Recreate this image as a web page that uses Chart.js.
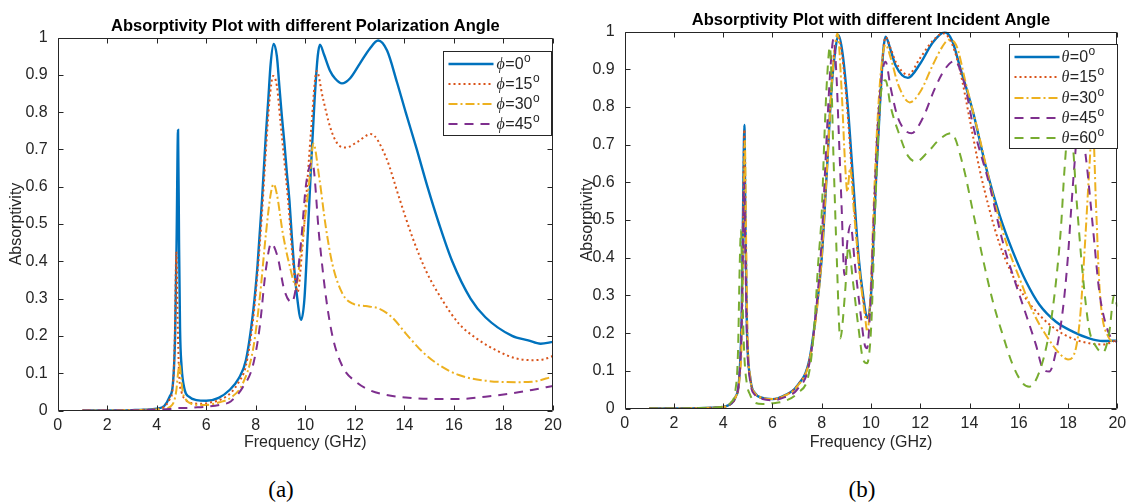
<!DOCTYPE html>
<html><head><meta charset="utf-8">
<script src="https://cdn.jsdelivr.net/npm/chart.js@4.4.1/dist/chart.umd.min.js"></script>
<style>
html,body{margin:0;padding:0;background:#fff;}
body{width:1129px;height:504px;position:relative;overflow:hidden;}
canvas{position:absolute;top:0;}
#ca{left:0;}
#cb{left:565px;}
.cap{position:absolute;top:476px;width:100px;text-align:center;font:23px "Liberation Serif","Times New Roman",serif;line-height:28px;color:#000;}
</style></head><body>
<canvas id="ca" width="565" height="460"></canvas>
<canvas id="cb" width="564" height="460"></canvas>
<div class="cap" style="left:231px">(a)</div>
<div class="cap" style="left:812px">(b)</div>
<script>
// ---------- data ----------
const xTicks = [0, 2, 4, 6, 8, 10, 12, 14, 16, 18, 20];
const yTicks = [0, 0.1, 0.2, 0.3, 0.4, 0.5, 0.6, 0.7, 0.8, 0.9, 1];
const titleA = 'Absorptivity Plot with different Polarization Angle';
const titleB = 'Absorptivity Plot with different Incident Angle';
const xLabel = 'Frequency (GHz)';
const yLabel = 'Absorptivity';
const phiAngles = [0, 15, 30, 45];
const thetaAngles = [0, 15, 30, 45, 60];

// (a) polarization angle phi
const freqA0 = [1,2,3,3.5,4,4.3,4.52,4.65,4.74,4.8,4.86,4.9,4.94,5.0,5.13,5.3,5.6,6.0,6.5,6.94,7.3,7.6,7.9,8.07,8.25,8.41,8.5,8.6,8.72,8.85,8.95,9.05,9.15,9.25,9.36,9.45,9.54,9.68,9.83,9.96,10.1,10.23,10.37,10.5,10.59,10.75,11.0,11.2,11.48,11.8,12.2,12.6,12.94,13.3,13.7,14.05,14.5,14.93,15.4,15.93,16.67,17.27,18.35,19.0,19.5,20];
const absA0  = [0,0,0.001,0.002,0.005,0.012,0.037,0.07,0.2,0.45,0.752,0.45,0.22,0.12,0.055,0.037,0.028,0.026,0.034,0.055,0.085,0.135,0.27,0.39,0.565,0.744,0.83,0.93,0.983,0.95,0.87,0.79,0.72,0.64,0.56,0.47,0.39,0.297,0.243,0.297,0.476,0.655,0.83,0.95,0.981,0.955,0.91,0.89,0.877,0.89,0.93,0.97,0.992,0.965,0.88,0.8,0.7,0.6,0.5,0.4,0.3,0.25,0.2,0.188,0.179,0.184];
const freqA15 = [1,2,3,3.5,4,4.3,4.52,4.65,4.73,4.79,4.84,4.9,5.0,5.15,5.4,5.8,6.2,6.6,7.0,7.3,7.6,7.9,8.07,8.25,8.41,8.55,8.7,8.85,9.0,9.15,9.3,9.5,9.69,9.87,10.03,10.23,10.46,10.7,11.0,11.3,11.64,12.1,12.64,13.25,13.79,14.32,14.86,15.53,16.2,17.0,17.81,18.48,19.15,19.6,20];
const absA15  = [0,0,0.001,0.002,0.004,0.01,0.03,0.065,0.2,0.426,0.25,0.1,0.05,0.03,0.02,0.018,0.022,0.03,0.048,0.075,0.12,0.25,0.37,0.53,0.7,0.83,0.897,0.87,0.77,0.67,0.565,0.4,0.318,0.43,0.565,0.75,0.91,0.84,0.76,0.715,0.705,0.72,0.741,0.68,0.57,0.465,0.376,0.296,0.233,0.189,0.158,0.14,0.135,0.137,0.146];
const freqA30 = [1,2,3,4,4.3,4.52,4.7,4.79,4.86,4.92,4.98,5.05,5.19,5.4,5.73,6.0,6.53,7.0,7.47,7.88,8.15,8.41,8.6,8.72,8.85,9.09,9.36,9.62,9.83,10.03,10.2,10.32,10.56,10.83,11.1,11.5,11.9,12.44,12.98,13.5,14.05,14.72,15.4,16.2,17.27,18.48,19.15,20];
const absA30  = [0,0,0.001,0.003,0.005,0.009,0.025,0.054,0.1,0.127,0.09,0.05,0.028,0.018,0.015,0.015,0.022,0.035,0.072,0.161,0.296,0.475,0.58,0.607,0.58,0.475,0.39,0.335,0.43,0.54,0.64,0.716,0.625,0.49,0.39,0.313,0.287,0.28,0.273,0.25,0.207,0.158,0.122,0.095,0.08,0.076,0.077,0.091];
const freqA45 = [1,2,3,4,4.5,4.85,5.2,5.5,6.0,6.53,7.0,7.47,7.88,8.15,8.41,8.62,8.88,9.15,9.45,9.62,9.83,10.03,10.28,10.56,10.83,11.1,11.5,12.04,12.58,13.25,14.05,15.13,16.2,17.27,18.35,19.15,20];
const absA45  = [0,0,0.0005,0.002,0.004,0.007,0.007,0.008,0.01,0.015,0.025,0.062,0.12,0.22,0.38,0.448,0.412,0.323,0.29,0.33,0.455,0.607,0.665,0.465,0.305,0.198,0.118,0.077,0.055,0.042,0.035,0.031,0.031,0.037,0.046,0.055,0.066];

// (b) incident angle theta
const freqB0 = [1,2,3,3.5,4,4.3,4.5,4.65,4.75,4.81,4.86,4.9,4.96,5.1,5.3,5.6,6.0,6.5,7.0,7.5,7.8,8.0,8.2,8.4,8.55,8.68,8.85,9.06,9.28,9.5,9.68,9.86,10.0,10.1,10.2,10.36,10.5,10.59,10.8,11.0,11.5,12.0,12.5,12.99,13.3,13.59,14.14,14.68,15.22,15.76,16.3,16.84,17.51,18.19,18.86,19.41,20];
const absB0  = [0,0,0.001,0.002,0.004,0.012,0.03,0.08,0.25,0.55,0.752,0.5,0.22,0.08,0.04,0.028,0.025,0.035,0.06,0.13,0.27,0.4,0.62,0.85,0.95,0.99,0.94,0.8,0.6,0.4,0.3,0.24,0.3,0.45,0.6,0.8,0.95,0.986,0.95,0.91,0.877,0.915,0.97,0.998,0.975,0.911,0.787,0.637,0.513,0.416,0.336,0.275,0.23,0.204,0.186,0.179,0.18];
const freqB15 = [1,2,3,3.5,4,4.3,4.5,4.65,4.75,4.81,4.86,4.9,4.96,5.1,5.3,5.6,6.0,6.5,7.0,7.5,7.8,8.0,8.2,8.4,8.52,8.65,8.82,9.03,9.25,9.48,9.66,9.84,10.0,10.1,10.2,10.36,10.5,10.59,10.8,11.0,11.5,12.0,12.5,12.95,13.3,13.6,14.0,14.4,14.8,15.2,15.7,16.2,16.84,17.5,18.2,18.86,19.41,20];
const absB15  = [0,0,0.001,0.002,0.004,0.012,0.03,0.08,0.25,0.55,0.74,0.5,0.22,0.08,0.04,0.028,0.025,0.035,0.06,0.13,0.27,0.41,0.63,0.86,0.95,0.99,0.94,0.8,0.6,0.4,0.3,0.24,0.3,0.45,0.6,0.8,0.95,0.985,0.955,0.92,0.885,0.93,0.975,0.995,0.965,0.9,0.77,0.637,0.53,0.44,0.36,0.3,0.248,0.21,0.185,0.173,0.17,0.182];
const freqB30 = [1,2,3,3.5,4,4.3,4.5,4.65,4.76,4.83,4.88,4.92,4.98,5.1,5.3,5.6,6.0,6.5,7.0,7.5,7.8,8.0,8.2,8.4,8.52,8.64,8.81,8.95,9.04,9.15,9.31,9.55,9.75,9.85,9.97,10.1,10.24,10.41,10.59,10.8,11.1,11.57,12.0,12.5,12.9,13.15,13.45,13.86,14.4,14.95,15.49,16.03,16.57,17.1,17.65,18.0,18.32,18.5,18.7,18.85,19.0,19.13,19.27,19.4,19.6,19.8,20];
const absB30  = [0,0,0.001,0.002,0.004,0.012,0.03,0.07,0.2,0.5,0.71,0.5,0.22,0.08,0.04,0.028,0.025,0.034,0.058,0.125,0.26,0.4,0.62,0.85,0.95,0.995,0.84,0.646,0.575,0.637,0.52,0.354,0.248,0.204,0.29,0.52,0.734,0.9,0.965,0.93,0.86,0.812,0.84,0.91,0.96,0.978,0.965,0.86,0.72,0.565,0.44,0.345,0.257,0.195,0.146,0.13,0.16,0.25,0.45,0.62,0.76,0.55,0.33,0.24,0.195,0.178,0.18];
const freqB45 = [1,2,3,3.5,4,4.3,4.5,4.65,4.75,4.8,4.85,4.9,4.97,5.1,5.3,5.6,6.0,6.5,7.0,7.5,7.8,8.0,8.2,8.35,8.48,8.6,8.68,8.81,8.92,9.05,9.17,9.35,9.55,9.75,9.84,9.97,10.1,10.24,10.41,10.59,10.8,11.1,11.64,12.1,12.6,13.0,13.39,13.8,14.14,14.81,15.35,15.89,16.3,16.7,16.97,17.24,17.51,17.78,17.99,18.12,18.26,18.45,18.73,19.0,19.27,19.54,19.81,20];
const absB45  = [0,0,0.001,0.002,0.004,0.012,0.03,0.08,0.22,0.42,0.6,0.4,0.18,0.07,0.035,0.025,0.022,0.03,0.05,0.12,0.28,0.45,0.72,0.9,0.98,0.88,0.75,0.53,0.354,0.45,0.487,0.38,0.266,0.168,0.16,0.266,0.487,0.71,0.867,0.92,0.85,0.77,0.73,0.77,0.85,0.9,0.922,0.86,0.752,0.593,0.442,0.328,0.248,0.168,0.107,0.098,0.151,0.257,0.398,0.522,0.646,0.78,0.663,0.487,0.31,0.222,0.182,0.177];
const freqB60 = [1,2,3,3.5,4,4.3,4.5,4.6,4.67,4.72,4.78,4.85,4.95,5.1,5.3,5.6,6.0,6.5,7.0,7.5,7.7,7.85,8.0,8.12,8.22,8.33,8.48,8.61,8.75,8.95,9.08,9.28,9.48,9.68,9.84,10.01,10.15,10.28,10.41,10.59,10.8,11.16,11.5,11.84,12.3,12.8,13.26,13.73,14.14,14.54,14.95,15.35,15.76,16.16,16.43,16.84,17.24,17.51,17.72,17.85,18.0,18.15,18.35,18.59,18.86,19.13,19.41,19.67,19.87,20];
const absB60  = [0,0,0.001,0.002,0.005,0.015,0.05,0.15,0.38,0.473,0.3,0.15,0.07,0.035,0.015,0.012,0.014,0.02,0.04,0.1,0.22,0.38,0.52,0.74,0.88,0.96,0.66,0.4,0.186,0.31,0.43,0.33,0.22,0.13,0.12,0.22,0.487,0.71,0.84,0.871,0.8,0.725,0.67,0.655,0.68,0.715,0.73,0.646,0.522,0.398,0.283,0.195,0.115,0.067,0.058,0.098,0.204,0.336,0.487,0.628,0.73,0.72,0.55,0.36,0.21,0.165,0.148,0.2,0.3,0.27];

// ---------- styles ----------
const seriesColors = ['#0072BD', '#D95319', '#EDB120', '#7E2F8E', '#77AC30'];
const seriesDash = [[], [2, 3], [9, 3, 2, 3], [9, 7], [9, 7]];
const seriesWidth = [2.4, 2, 2, 2, 2];
const AXIS = '#262626';
Chart.defaults.font.family = '"Liberation Sans", Arial, Helvetica, sans-serif';
Chart.defaults.color = AXIS;

function pts(xs, ys) { return xs.map((x, i) => ({ x: x, y: ys[i] })); }

function makeSets(freqs, abss, angles, sym) {
  const n = freqs.length;
  return freqs.map((f, i) => ({
    label: sym + '=' + angles[i] + '°',
    sym: sym, val: String(angles[i]),
    data: pts(f, abss[i]),
    borderColor: seriesColors[i],
    backgroundColor: seriesColors[i],
    borderWidth: seriesWidth[i],
    borderDash: seriesDash[i],
    pointRadius: 0,
    fill: false,
    cubicInterpolationMode: 'monotone',
    order: n - i
  }));
}

const framePlugin = {
  id: 'frame',
  afterDatasetsDraw(chart) {
    const { ctx, chartArea: a, scales } = chart;
    const x = scales.x, y = scales.y;
    const L = 5;
    ctx.save();
    ctx.strokeStyle = AXIS; ctx.lineWidth = 1; ctx.setLineDash([]);
    ctx.beginPath();
    const l = Math.round(a.left) + 0.5, r = Math.round(a.right) - 0.5;
    const t = Math.round(a.top) + 0.5, b = Math.round(a.bottom) - 0.5;
    ctx.rect(l, t, r - l, b - t);
    xTicks.forEach(v => {
      const p = Math.round(x.getPixelForValue(v)) + 0.5;
      ctx.moveTo(p, b); ctx.lineTo(p, b - L);
      ctx.moveTo(p, t); ctx.lineTo(p, t + L);
    });
    yTicks.forEach(v => {
      const p = Math.round(y.getPixelForValue(v)) + 0.5;
      ctx.moveTo(l, p); ctx.lineTo(l + L, p);
      ctx.moveTo(r, p); ctx.lineTo(r - L, p);
    });
    ctx.stroke();
    ctx.restore();
  }
};

const axTitlePlugin = {
  id: 'axTitle',
  afterDraw(chart, args, o) {
    const { ctx, chartArea: a } = chart;
    ctx.save();
    ctx.fillStyle = '#000';
    ctx.font = 'bold 16.5px "Liberation Sans", Arial, sans-serif';
    ctx.textAlign = 'center'; ctx.textBaseline = 'alphabetic';
    ctx.fillText(o.text, (a.left + a.right) / 2, a.top - o.gap);
    ctx.restore();
  }
};

const legendPlugin = {
  id: 'inLegend',
  afterDraw(chart, args, o) {
    const { ctx, chartArea: a } = chart;
    const sets = chart.data.datasets;
    const x0 = Math.round(a.right - o.right - o.width) + 0.5;
    const y0 = Math.round(a.top + o.top) + 0.5;
    ctx.save();
    ctx.fillStyle = '#fff';
    ctx.fillRect(x0, y0, o.width, o.height);
    ctx.strokeStyle = AXIS; ctx.lineWidth = 1;
    ctx.strokeRect(x0, y0, o.width, o.height);
    sets.forEach((ds, i) => {
      const yy = Math.round(y0 + o.first + i * o.step);
      ctx.beginPath();
      ctx.setLineDash(ds.borderDash);
      ctx.strokeStyle = ds.borderColor; ctx.lineWidth = ds.borderWidth;
      ctx.moveTo(x0 + o.lineStart, yy); ctx.lineTo(x0 + o.lineEnd, yy);
      ctx.stroke();
      ctx.setLineDash([]);
      let tx = x0 + o.textStart;
      ctx.fillStyle = AXIS; ctx.textBaseline = 'middle'; ctx.textAlign = 'left';
      ctx.font = 'italic 16px "Liberation Serif", serif';
      ctx.fillText(ds.sym, tx, yy + 1);
      tx += ctx.measureText(ds.sym).width + 0.5;
      ctx.font = '16px "Liberation Sans", Arial, sans-serif';
      const s = '=' + ds.val;
      ctx.fillText(s, tx, yy + 1);
      tx += ctx.measureText(s).width + 0.5;
      ctx.font = '12px "Liberation Sans", Arial, sans-serif';
      ctx.fillText('o', tx, yy - 5);
    });
    ctx.restore();
  }
};

function fmtTick(v) { return String(Math.round(v * 10) / 10); }

function makeOptions(p) {
  return {
    responsive: false,
    animation: false,
    events: [],
    layout: { padding: { left: 0, right: p.padRight, top: p.padTop, bottom: 0 } },
    plugins: {
      legend: { display: false },
      tooltip: { enabled: false },
      title: { display: false },
      axTitle: { text: p.title, gap: p.titleGap },
      inLegend: p.legend
    },
    scales: {
      x: {
        type: 'linear', min: 0, max: 20,
        grid: { display: false, drawTicks: false },
        border: { display: false },
        ticks: { padding: 5, font: { size: 16 }, color: AXIS, maxRotation: 0, callback: fmtTick },
        afterBuildTicks: s => { s.ticks = xTicks.map(v => ({ value: v })); },
        afterFit: s => { s.height = p.xHeight; s.paddingLeft = 0; s.paddingRight = 0; },
        title: { display: true, text: xLabel, color: AXIS, font: { size: 16 }, padding: { top: 0, bottom: p.xTitleBottom } }
      },
      y: {
        type: 'linear', min: 0, max: 1,
        grid: { display: false, drawTicks: false },
        border: { display: false },
        ticks: { padding: p.yTickPad, font: { size: 16 }, color: AXIS, callback: fmtTick },
        afterBuildTicks: s => { s.ticks = yTicks.map(v => ({ value: v })); },
        afterFit: s => { s.width = p.yWidth; s.paddingTop = 0; s.paddingBottom = 0; },
        title: { display: true, text: yLabel, color: AXIS, font: { size: 16 }, padding: { top: p.yTitleTop, bottom: 0 } }
      }
    }
  };
}

new Chart(document.getElementById('ca'), {
  type: 'line',
  data: { datasets: makeSets([freqA0, freqA15, freqA30, freqA45], [absA0, absA15, absA30, absA45], phiAngles, 'ϕ') },
  options: makeOptions({
    title: titleA, titleGap: 7, padRight: 12, padTop: 37.5,
    xHeight: 49.5, xTitleBottom: 7.5, yWidth: 57.7, yTickPad: 10, yTitleTop: 7,
    legend: { width: 108, height: 84, top: 13, right: 2, first: 12, step: 20, lineStart: 5, lineEnd: 50, textStart: 53 }
  }),
  plugins: [framePlugin, axTitlePlugin, legendPlugin]
});

new Chart(document.getElementById('cb'), {
  type: 'line',
  data: { datasets: makeSets([freqB0, freqB15, freqB30, freqB45, freqB60], [absB0, absB15, absB30, absB45, absB60], thetaAngles, 'θ') },
  options: makeOptions({
    title: titleB, titleGap: 7, padRight: 11.7, padTop: 31.5,
    xHeight: 51.5, xTitleBottom: 7.5, yWidth: 59.7, yTickPad: 10, yTitleTop: 13,
    legend: { width: 108, height: 104, top: 12.5, right: 0, first: 12.7, step: 20.15, lineStart: 5, lineEnd: 50, textStart: 52 }
  }),
  plugins: [framePlugin, axTitlePlugin, legendPlugin]
});
</script>
</body></html>
